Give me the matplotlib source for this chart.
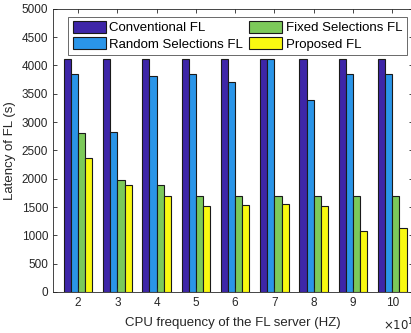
import matplotlib.pyplot as plt
import numpy as np

# CPU frequency of the FL server (x 1e10 Hz)
freqs = [2, 3, 4, 5, 6, 7, 8, 9, 10]

conventional = [4115, 4115, 4115, 4115, 4115, 4115, 4115, 4115, 4115]
random_sel = [3850, 2825, 3815, 3850, 3715, 4115, 3390, 3850, 3850]
fixed_sel = [2800, 1975, 1890, 1690, 1690, 1690, 1690, 1690, 1690]
proposed = [2370, 1890, 1690, 1510, 1530, 1560, 1510, 1080, 1135]

labels = ['Conventional FL', 'Random Selections FL',
          'Fixed Selections FL', 'Proposed FL']
colors = ['#3E26A8', '#2A95E8', '#7CC95A', '#F9F911']

plt.rcParams['font.family'] = ['Liberation Sans', 'DejaVu Sans']

fig = plt.figure(figsize=(4.11, 3.33), dpi=100)
ax = fig.add_axes([53 / 411, 1 - 292 / 333, 360 / 411, 283.3 / 333])

x = np.array(freqs, dtype=float)
w = 0.1825
series = [conventional, random_sel, fixed_sel, proposed]
for i, (vals, lab, c) in enumerate(zip(series, labels, colors)):
    ax.bar(x + (i - 1.5) * w, vals, width=w, color=c, edgecolor='#1a1a1a',
           linewidth=0.8, label=lab)

ax.set_xlim(1.36, 10.53)
ax.set_ylim(0, 5000)
ax.set_xticks(freqs)
ax.set_yticks(np.arange(0, 5001, 500))
ax.tick_params(direction='in', top=True, right=True, labelsize=8.5,
               length=3, width=0.6, colors='#262626')
for s in ax.spines.values():
    s.set_linewidth(0.6)
    s.set_color('#262626')

ax.set_xlabel('CPU frequency of the FL server (HZ)', fontsize=9.5,
              color='#262626', labelpad=6)
ax.set_ylabel('Latency of FL (s)', fontsize=9.5, color='#262626')
ax.text(0.917, -0.088, r'$\times10^{10}$', transform=ax.transAxes,
        ha='left', va='top', fontsize=8.5, color='#262626')

leg = ax.legend(ncol=2, loc='upper left', bbox_to_anchor=(0.042, 0.972),
                fontsize=9.5, frameon=True, fancybox=False, edgecolor='#262626',
                handlelength=2.5, handleheight=0.95, columnspacing=0.5,
                handletextpad=0.25, labelspacing=0.22, borderpad=0.35,
                borderaxespad=0)
leg.get_frame().set_linewidth(0.6)

fig.savefig('out.png', dpi=100)
